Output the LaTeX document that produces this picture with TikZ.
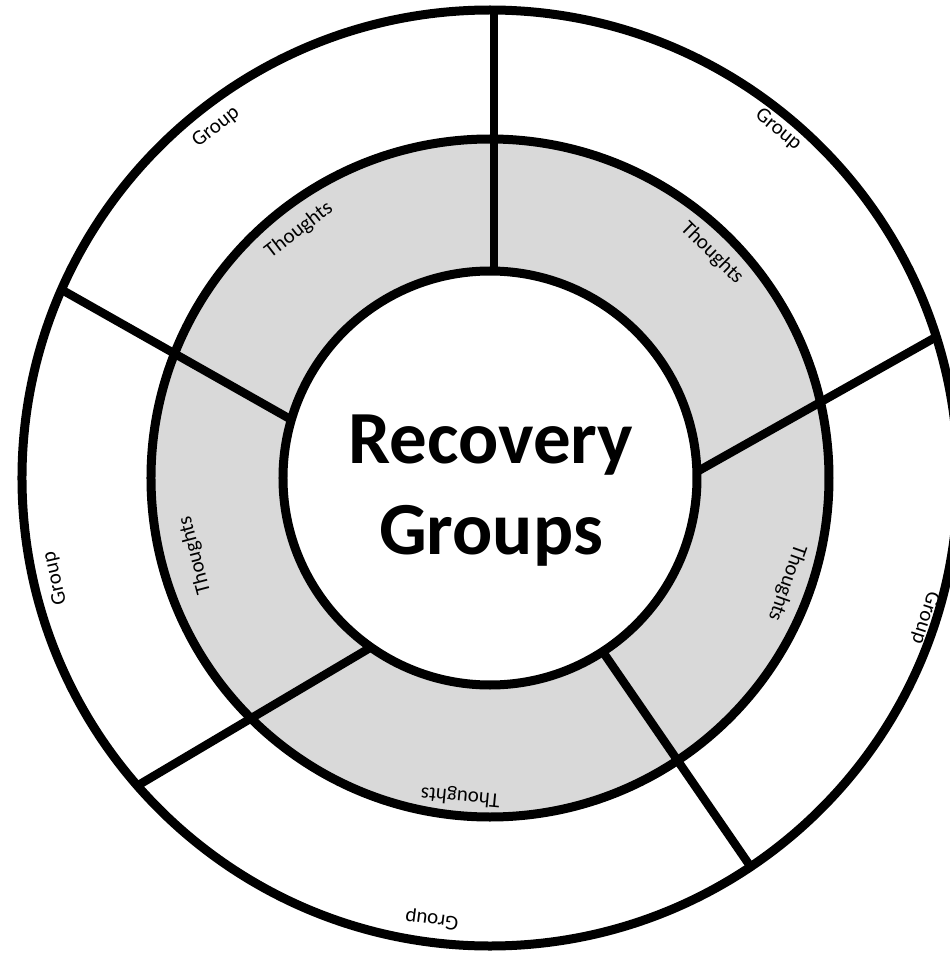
\documentclass[tikz,border=0pt]{standalone}
\usepackage{fontspec}
\setmainfont{Carlito}
\definecolor{ringgray}{RGB}{217,217,217}
\begin{document}
\begin{tikzpicture}[x=1pt,y=1pt,
  ring/.style={line width=9pt},
  spoke/.style={line width=8.5pt},
  lbl/.style={font=\fontsize{21}{25}\selectfont, inner sep=0pt},
  title/.style={font=\fontsize{75}{91}\selectfont\bfseries, align=center, inner sep=0pt}]
\useasboundingbox (-490,-476) rectangle (460,478);
\fill[white] (-490,-476) rectangle (460,478);
\coordinate (C) at (0,0);
\fill[ringgray] (C) circle (339);
% spoke end points
\coordinate (s1a) at (4,150);     \coordinate (s1b) at (4,520);
\coordinate (s2a) at (139,-32);   \coordinate (s2b) at (494,168);
\coordinate (s3a) at (71.5,-113.7); \coordinate (s3b) at (289,-430);
\coordinate (s4a) at (-59.5,-134); \coordinate (s4b) at (-397,-334);
\coordinate (s5a) at (-140.7,25.5); \coordinate (s5b) at (-472,213);
\begin{scope}
  \clip (C) circle (468);
  \draw[spoke] (s1a) -- (s1b);
  \draw[spoke] (s2a) -- (s2b);
  \draw[spoke] (s3a) -- (s3b);
  \draw[spoke] (s4a) -- (s4b);
  \draw[spoke] (s5a) -- (s5b);
\end{scope}
\fill[white] (C) circle (207);
\draw[ring] (C) circle (207);
\draw[ring] (C) circle (339);
\draw[ring] (C) circle (468);
% labels
\node[lbl, rotate=38]    (g1) at (128:445)  {Group};
\node[lbl, rotate=-39.6] (g2) at (50.4:452) {Group};
\node[lbl, rotate=-107.8](g3) at (-17.8:457){Group};
\node[lbl, rotate=172.5] (g4) at (262.5:445){Group};
\node[lbl, rotate=103]   (g5) at (193:446)  {Group};
\node[lbl, rotate=37.6]  (t1) at (127.6:313){Thoughts};
\node[lbl, rotate=-44.6] (t2) at (45.4:316) {Thoughts};
\node[lbl, rotate=-109.5](t3) at (-19.5:315){Thoughts};
\node[lbl, rotate=174.7] (t4) at (264.7:320){Thoughts};
\node[lbl, rotate=104.7] (t5) at (194.7:305){Thoughts};
\node[title] (center) at (1,-13) {Recovery\\Groups};
\end{tikzpicture}
\end{document}
